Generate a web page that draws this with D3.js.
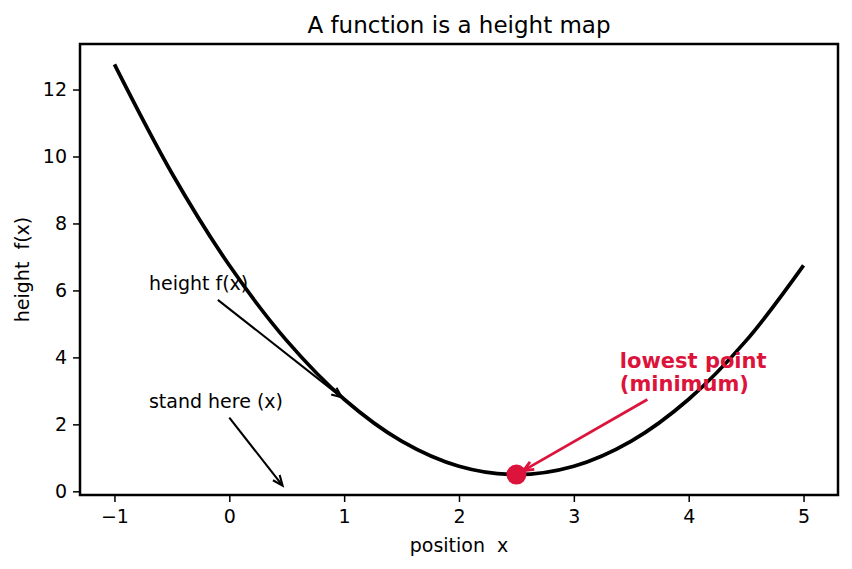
<!DOCTYPE html>
<html>
<head>
<meta charset="utf-8">
<script src="https://cdn.jsdelivr.net/npm/d3@7"></script>
<style>
  body { margin: 0; background: #fff; }
  svg text { font-family: "DejaVu Sans", sans-serif; }
</style>
</head>
<body>
<div id="chart"></div>
<script>
// values
const xs = [-1, -0.5, 0, 0.5, 1, 1.5, 2, 2.5, 3, 3.5, 4, 4.5, 5];
const heights = [12.75, 9.5, 6.75, 4.5, 2.75, 1.5, 0.75, 0.5, 0.75, 1.5, 2.75, 4.5, 6.75];
const xTicks = [-1, 0, 1, 2, 3, 4, 5];
const yTicks = [0, 2, 4, 6, 8, 10, 12];
const minPoint = [2.5, 0.5];

const annotations = [
    { lines: ["height f(x)"], at: [-0.7, 6], from: [-0.1, 5.72], to: [1, 2.75], color: "#000", bold: false },
    { lines: ["stand here (x)"], at: [-0.7, 2.5], from: [0, 2.2], to: [0.48, 0.1], color: "#000", bold: false },
    { lines: ["lowest point", "(minimum)"], at: [3.4, 3.0], from: [3.64, 2.74], to: [2.5, 0.5], color: "crimson", bold: true }
];

const W = 852, H = 569;
const margin = { top: 44, right: 14, bottom: 74, left: 80 };
const width = W - margin.left - margin.right;
const height = H - margin.top - margin.bottom;

const svg = d3.select("#chart").append("svg")
    .attr("width", W)
    .attr("height", H);

const g = svg.append("g")
    .attr("transform", `translate(${margin.left},${margin.top})`);

const x = d3.scaleLinear().domain([-1.3, 5.3]).range([0, width]);
const y = d3.scaleLinear().domain([-0.11, 13.36]).range([height, 0]);

// axes
const xAxis = g.append("g")
    .attr("transform", `translate(0,${height})`)
    .call(d3.axisBottom(x).tickValues(xTicks).tickSize(7).tickPadding(8)
        .tickFormat(d => d < 0 ? "\u2212" + Math.abs(d) : d));
const yAxis = g.append("g")
    .call(d3.axisLeft(y).tickValues(yTicks).tickSize(7).tickPadding(6));

[xAxis, yAxis].forEach(a => {
    a.select(".domain").remove();
    a.selectAll(".tick line").attr("stroke", "#000").attr("stroke-width", 1.5);
    a.selectAll(".tick text")
        .attr("fill", "#000")
        .style("font-size", "19px")
        .style("font-family", "DejaVu Sans");
});

// the curve
const line = d3.line()
    .x((d, i) => x(xs[i]))
    .y(d => y(d))
    .curve(d3.curveCatmullRom.alpha(0.5));

g.append("path")
    .datum(heights)
    .attr("d", line)
    .attr("fill", "none")
    .attr("stroke", "#000")
    .attr("stroke-width", 3.7);

// annotation arrows and texts
function drawArrow(a) {
    const x1 = x(a.from[0]), y1 = y(a.from[1]);
    let x2 = x(a.to[0]), y2 = y(a.to[1]);
    const ang = Math.atan2(y2 - y1, x2 - x1);
    const shrink = a.bold ? 8 : 3;   // keep the tip off the target
    x2 -= shrink * Math.cos(ang);
    y2 -= shrink * Math.sin(ang);
    const sw = a.bold ? 2.8 : 2.1;
    g.append("line")
        .attr("x1", x1).attr("y1", y1).attr("x2", x2).attr("y2", y2)
        .attr("stroke", a.color).attr("stroke-width", sw);
    const hl = 11, hw = 0.4;
    const p1 = [x2 - hl * Math.cos(ang - hw), y2 - hl * Math.sin(ang - hw)];
    const p2 = [x2 - hl * Math.cos(ang + hw), y2 - hl * Math.sin(ang + hw)];
    g.append("path")
        .attr("d", `M${p1[0]},${p1[1]}L${x2},${y2}L${p2[0]},${p2[1]}`)
        .attr("fill", "none")
        .attr("stroke", a.color)
        .attr("stroke-width", sw);
}

annotations.forEach(a => {
    drawArrow(a);
    const t = g.append("text")
        .attr("x", x(a.at[0]))
        .attr("y", y(a.at[1]))
        .attr("fill", a.color)
        .style("font-size", a.bold ? "21px" : "19px")
        .style("font-weight", a.bold ? "bold" : "normal");
    const n = a.lines.length;
    a.lines.forEach((s, i) => {
        t.append("tspan")
            .attr("x", x(a.at[0]))
            .attr("dy", i === 0 ? -(n - 1) * 23 : 23)
            .text(s);
    });
});

// minimum point
g.append("circle")
    .attr("cx", x(minPoint[0]))
    .attr("cy", y(minPoint[1]))
    .attr("r", 10)
    .attr("fill", "crimson");

// frame
g.append("rect")
    .attr("width", width)
    .attr("height", height)
    .attr("fill", "none")
    .attr("stroke", "#000")
    .attr("stroke-width", 2.5);

// labels
svg.append("text")
    .attr("x", margin.left + width / 2)
    .attr("y", 33)
    .attr("text-anchor", "middle")
    .style("font-size", "23px")
    .text("A function is a height map");

svg.append("text")
    .attr("x", margin.left + width / 2)
    .attr("y", 552)
    .attr("text-anchor", "middle")
    .style("font-size", "19px")
    .style("white-space", "pre")
    .text("position  x");

svg.append("text")
    .attr("transform", `translate(29,${margin.top + height / 2}) rotate(-90)`)
    .attr("text-anchor", "middle")
    .style("font-size", "19px")
    .style("white-space", "pre")
    .text("height  f(x)");
</script>
</body>
</html>
